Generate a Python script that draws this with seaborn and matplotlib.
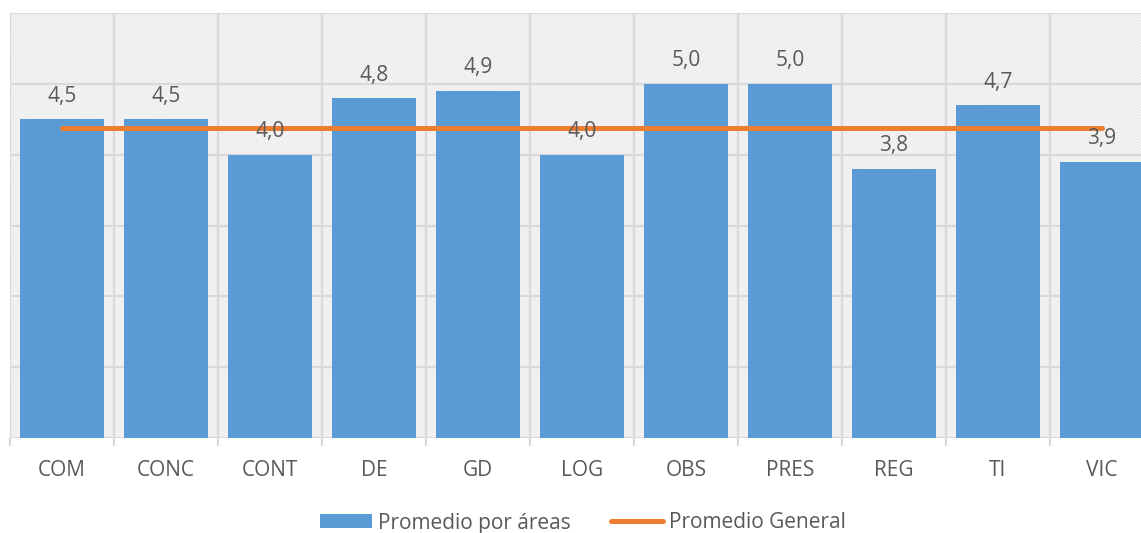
import matplotlib
matplotlib.use('Agg')
import matplotlib.pyplot as plt
import seaborn as sns
from matplotlib.patches import Rectangle
from matplotlib.lines import Line2D
from matplotlib.patches import Patch

areas = ['COM', 'CONC', 'CONT', 'DE', 'GD', 'LOG', 'OBS', 'PRES', 'REG', 'TI', 'VIC']
promedio_areas = [4.5, 4.5, 4.0, 4.8, 4.9, 4.0, 5.0, 5.0, 3.8, 4.7, 3.9]
promedio_general = [4.37] * len(areas)

azul = '#5B9BD5'
naranja = '#ED7D31'
gris = '#595959'
rejilla = '#D9D9D9'

sns.set_style('white')
plt.rcParams['font.family'] = ['Open Sans', 'DejaVu Sans']
plt.rcParams['hatch.linewidth'] = 0.9

fig = plt.figure(figsize=(11.41, 5.33), dpi=100)
ax = fig.add_axes([10 / 1141, 95 / 533, 1144 / 1141, 425 / 533])

# fondo rayado
ax.add_patch(Rectangle((0, 0), 1, 1, transform=ax.transAxes, facecolor='white',
                       edgecolor='#E8E8E8', hatch='\\' * 12, lw=0, zorder=0))

for y in range(0, 7):
    ax.axhline(y, color=rejilla, lw=1.6, zorder=1)
for i in range(len(areas) + 1):
    ax.axvline(i - 0.5, color=rejilla, lw=1.6, zorder=1)

sns.barplot(x=areas, y=promedio_areas, color=azul, width=0.81, saturation=1,
            linewidth=0, ax=ax, zorder=2)
ax.bar_label(ax.containers[0], labels=[f'{v:.1f}'.replace('.', ',') for v in promedio_areas],
             padding=9, fontsize=15, color=gris, zorder=5)

sns.lineplot(x=list(range(len(areas))), y=promedio_general, color=naranja, lw=3.6,
             ax=ax, zorder=3, solid_capstyle='round')

ax.set_xlim(-0.5, len(areas) - 0.5)
ax.set_ylim(0, 6)
ax.set_yticks([])
ax.set_xticks([i - 0.5 for i in range(len(areas) + 1)], minor=True)
ax.tick_params(axis='x', which='minor', length=6, width=1.6, color=rejilla, bottom=True)
ax.tick_params(axis='x', which='major', length=0, pad=16, labelsize=15, labelcolor=gris)
ax.set_xlabel('')
ax.set_ylabel('')
for s in ax.spines.values():
    s.set_visible(False)

handles = [Patch(facecolor=azul, edgecolor='none'),
           Line2D([0], [0], color=naranja, lw=3.6, solid_capstyle='round')]
fig.legend(handles, ['Promedio por áreas', 'Promedio General'], loc='center',
           bbox_to_anchor=(583 / 1141, 1 - 523 / 533), ncol=2, frameon=False,
           fontsize=15, labelcolor=gris, handlelength=2.5, handleheight=0.62,
           columnspacing=1.9, handletextpad=0.3)

fig.savefig('out.png', dpi=100)
